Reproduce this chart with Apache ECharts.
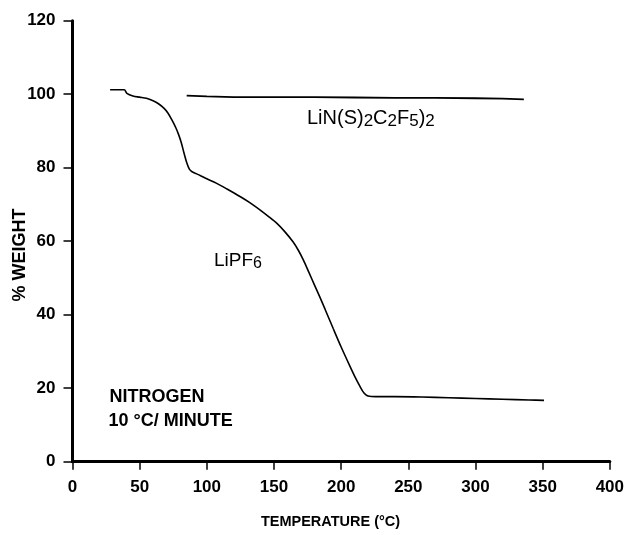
<!DOCTYPE html>
<html>
<head>
<meta charset="utf-8">
<script src="https://cdn.jsdelivr.net/npm/echarts@6/dist/echarts.min.js"></script>
<style>
  html, body { margin: 0; padding: 0; background: #fff; }
  #chart { width: 627px; height: 535px; }
</style>
</head>
<body>
<div id="chart"></div>
<script>
// Thermogravimetric curves: temperature (°C) vs. remaining weight (%)
const xTicks = [0, 50, 100, 150, 200, 250, 300, 350, 400];
const yTicks = [0, 20, 40, 60, 80, 100, 120];

const lipf6Temp = [28, 38.5, 40.5, 45, 50, 55, 60, 64, 68, 71, 74, 77, 79, 81, 83, 85, 87, 89, 95, 100,
  107, 115, 125, 132, 140, 146, 152, 158, 164, 168, 172, 176, 180, 184, 188, 194, 200, 206.5, 210, 214,
  217, 220, 226, 240, 260, 280, 300, 320, 340, 351];
const lipf6Weight = [101.2, 101.2, 100.2, 99.5, 99.2, 98.9, 98.2, 97.4, 96.2, 94.9, 93.0, 90.8, 89.0, 86.8, 84.0, 81.4, 79.6, 78.9, 77.9, 77.0,
  75.8, 74.2, 72.1, 70.5, 68.4, 66.7, 64.9, 62.6, 59.9, 57.6, 54.8, 51.5, 48.2, 44.9, 41.5, 36.3, 31.2, 26.0, 23.3, 20.5,
  18.7, 17.9, 17.7, 17.7, 17.6, 17.4, 17.2, 17.0, 16.8, 16.7];

const linTemp = [85, 100, 120, 150, 180, 210, 240, 270, 300, 320, 336];
const linWeight = [99.6, 99.4, 99.2, 99.2, 99.2, 99.1, 99.0, 99.0, 98.9, 98.8, 98.6];

const FONT = '"Liberation Sans", Arial, sans-serif';

function pairs(xs, ys) {
  return xs.map((x, i) => [x, ys[i]]);
}

const chart = echarts.init(document.getElementById('chart'), null, { renderer: 'canvas' });

const axisLine = { show: true, onZero: false, lineStyle: { color: '#000', width: 3 } };

chart.setOption({
  animation: false,
  backgroundColor: '#fff',
  grid: { left: 72.5, right: 17, top: 20.7, bottom: 73.3, containLabel: false },
  xAxis: {
    type: 'value',
    min: xTicks[0],
    max: xTicks[xTicks.length - 1],
    interval: 50,
    axisLine: axisLine,
    axisTick: { show: true, length: 8, lineStyle: { color: '#000', width: 1.5 } },
    axisLabel: { color: '#000', fontFamily: FONT, fontWeight: 'bold', fontSize: 17, margin: 17 },
    splitLine: { show: false }
  },
  yAxis: {
    type: 'value',
    min: yTicks[0],
    max: yTicks[yTicks.length - 1],
    interval: 20,
    axisLine: axisLine,
    axisTick: { show: true, length: 9, lineStyle: { color: '#000', width: 1.5 } },
    axisLabel: { color: '#000', fontFamily: FONT, fontWeight: 'bold', fontSize: 17, margin: 17 },
    splitLine: { show: false }
  },
  series: [
    {
      name: 'LiPF6',
      type: 'line',
      data: pairs(lipf6Temp, lipf6Weight),
      showSymbol: false,
      smooth: 0.3,
      lineStyle: { color: '#000', width: 1.6 }
    },
    {
      name: 'LiN(SO2C2F5)2',
      type: 'line',
      data: pairs(linTemp, linWeight),
      showSymbol: false,
      lineStyle: { color: '#000', width: 1.8 }
    }
  ],
  graphic: [
    {
      type: 'text', x: 330.5, y: 521.7,
      style: { text: 'TEMPERATURE (°C)', font: 'bold 14.5px ' + FONT, fill: '#000', align: 'center', verticalAlign: 'middle' }
    },
    {
      type: 'text', x: 20, y: 255, rotation: Math.PI / 2,
      style: { text: '% WEIGHT', font: 'bold 18px ' + FONT, fill: '#000', align: 'center', verticalAlign: 'middle' }
    },
    {
      type: 'text', x: 109.5, y: 396.7,
      style: { text: 'NITROGEN', font: 'bold 18px ' + FONT, fill: '#000', align: 'left', verticalAlign: 'middle' }
    },
    {
      type: 'text', x: 108.5, y: 421.5,
      style: { text: '10 °C/ MINUTE', font: 'bold 18px ' + FONT, fill: '#000', align: 'left', verticalAlign: 'middle' }
    },
    {
      type: 'text', x: 307, y: 108,
      style: {
        text: '{m|LiN(S)}{s|2}{m|C}{s|2}{m|F}{s|5}{m|)}{s|2}',
        align: 'left', verticalAlign: 'top', fill: '#000',
        rich: {
          m: { fontFamily: FONT, fontSize: 20, fontWeight: 500, lineHeight: 22, verticalAlign: 'top', fill: '#000' },
          s: { fontFamily: FONT, fontSize: 17, fontWeight: 500, lineHeight: 22, padding: [5, 0, 0, 0], verticalAlign: 'bottom', fill: '#000' }
        }
      }
    },
    {
      type: 'text', x: 214, y: 251,
      style: {
        text: '{m|LiPF}{s|6}',
        align: 'left', verticalAlign: 'top', fill: '#000',
        rich: {
          m: { fontFamily: FONT, fontSize: 19, fontWeight: 500, lineHeight: 21, verticalAlign: 'top', fill: '#000' },
          s: { fontFamily: FONT, fontSize: 16, fontWeight: 500, lineHeight: 21, padding: [6, 0, 0, 0], verticalAlign: 'bottom', fill: '#000' }
        }
      }
    }
  ]
});
</script>
</body>
</html>
